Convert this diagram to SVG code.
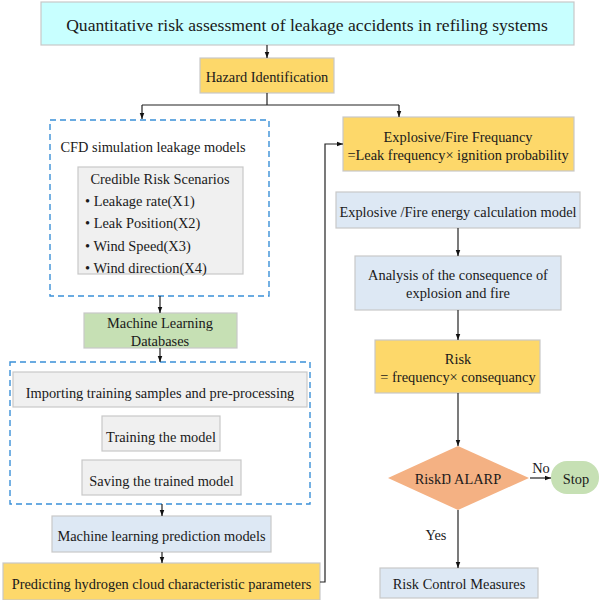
<svg xmlns="http://www.w3.org/2000/svg" width="600" height="600" viewBox="0 0 600 600" font-family="'Liberation Serif', 'Times New Roman', serif">
<defs>
<marker id="ah" viewBox="0 0 8 8" refX="8" refY="4" markerWidth="6" markerHeight="6" orient="auto" markerUnits="userSpaceOnUse"><path d="M0,1 L8,4 L0,7 z" fill="#111"/></marker>
<style>
text{font-family:"Liberation Serif","Times New Roman",serif;fill:#1a1a1a;font-size:14.4px;text-anchor:middle;dominant-baseline:central}
.box{stroke:#c8c8c8;stroke-width:1.2}
.yel{fill:#fdd86a}.blu{fill:#dde8f4}.gry{fill:#f0f0f0}.grn{fill:#c6e0b4}
.dash{fill:none;stroke:#3a90d8;stroke-width:1.4;stroke-dasharray:6,4}
.ln{fill:none;stroke:#222;stroke-width:1.2}
.lt{text-anchor:start}
</style>
</defs>
<g id="title"><rect class="box" x="41" y="2" width="533" height="43" fill="#c8ffff"/><text x="307" y="25" style="font-size:17.6px">Quantitative risk assessment of leakage accidents in refiling systems</text></g>
<g id="hazard"><rect class="box yel" x="200" y="58" width="134" height="35"/><text x="267" y="76.5">Hazard Identification</text></g>
<g id="cfd"><rect class="dash" x="50" y="120" width="219" height="176"/><text x="153" y="147">CFD  simulation leakage models</text></g>
<g id="scenarios"><rect class="box gry" x="78" y="167" width="165" height="107"/><text x="160" y="179">Credible Risk Scenarios</text>
<text class="lt" x="85" y="201">• Leakage rate(X1)</text>
<text class="lt" x="85" y="223">• Leak Position(X2)</text>
<text class="lt" x="85" y="246">• Wind Speed(X3)</text>
<text class="lt" x="85" y="268">• Wind direction(X4)</text></g>
<g id="mldb"><rect class="box grn" x="84" y="313" width="153" height="35"/><text x="160" y="323">Machine Learning</text><text x="160" y="341">Databases</text></g>
<g id="training-group"><rect class="dash" x="10" y="362" width="300" height="142"/></g>
<g id="import"><rect class="box gry" x="13" y="372" width="294" height="35"/><text x="160" y="392.5">Importing training samples and pre-processing</text></g>
<g id="train"><rect class="box gry" x="102" y="416" width="118" height="35"/><text x="161" y="436.5">Training the model</text></g>
<g id="save"><rect class="box gry" x="82" y="460" width="159" height="35"/><text x="161.5" y="480.5">Saving the trained model</text></g>
<g id="mlpred"><rect class="box blu" x="52" y="516" width="219" height="36"/><text x="161.5" y="536">Machine learning prediction models</text></g>
<g id="predict"><rect class="box yel" x="3" y="563" width="317" height="37"/><text x="161.5" y="583.5">Predicting hydrogen cloud characteristic parameters</text></g>
<g id="freq"><rect class="box yel" x="343" y="117" width="231" height="54"/><text x="458" y="137">Explosive/Fire Frequancy</text><text x="458" y="155">=Leak frequency× ignition probability</text></g>
<g id="energy"><rect class="box blu" x="336" y="192" width="244" height="36"/><text x="458" y="212">Explosive /Fire energy calculation model</text></g>
<g id="analysis"><rect class="box blu" x="355" y="256" width="206" height="54"/><text x="458" y="275">Analysis of the consequence of</text><text x="458" y="293">explosion and fire</text></g>
<g id="risk"><rect class="box yel" x="375" y="340" width="165" height="53"/><text x="458" y="359">Risk</text><text x="458" y="377">= frequency× consequancy</text></g>
<g id="decision"><polygon points="458,446 529,478 458,510 388,478" fill="#f4b183"/><text x="458" y="479">RiskŊ ALARP</text></g>
<g id="stop"><rect x="551" y="461" width="48" height="33" rx="16" fill="#c6e0b4"/><text x="576" y="479">Stop</text></g>
<g id="control"><rect class="box blu" x="380" y="568" width="158" height="30"/><text x="459" y="584">Risk Control Measures</text></g>
<g id="connectors">
<path class="ln" d="M267,45 V58" marker-end="url(#ah)"/>
<path class="ln" d="M267,93 V105 M142,105 H399"/>
<path class="ln" d="M142,105 V119" marker-end="url(#ah)"/>
<path class="ln" d="M399,105 V117" marker-end="url(#ah)"/>
<path class="ln" d="M160,296 V313" marker-end="url(#ah)"/>
<path class="ln" d="M160,348 V362" marker-end="url(#ah)"/>
<path class="ln" d="M162,504 V516" marker-end="url(#ah)"/>
<path class="ln" d="M162,552 V563" marker-end="url(#ah)"/>
<path class="ln" d="M320,582 H325 V144 H343" marker-end="url(#ah)"/>
<path class="ln" d="M458,228 V256" marker-end="url(#ah)"/>
<path class="ln" d="M458,310 V340" marker-end="url(#ah)"/>
<path class="ln" d="M458,393 V446" marker-end="url(#ah)"/>
<path class="ln" d="M530,478 H551" marker-end="url(#ah)"/>
<path class="ln" d="M458,510 V568" marker-end="url(#ah)"/>
<text x="541" y="468">No</text>
<text x="436" y="535">Yes</text>
</g>
</svg>
